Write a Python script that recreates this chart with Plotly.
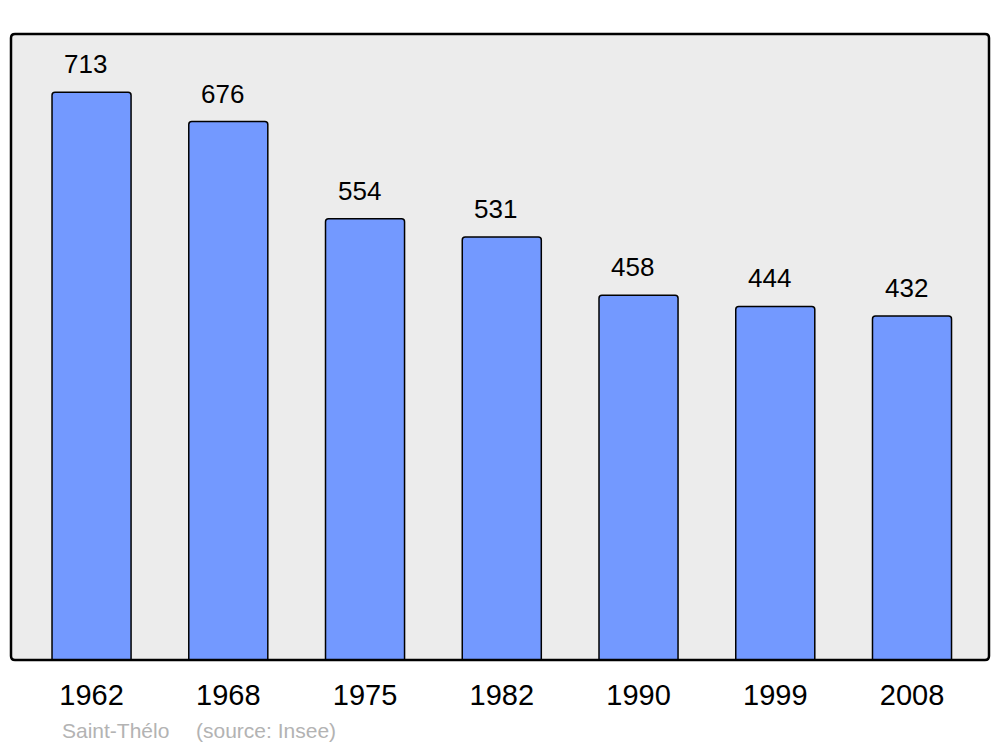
import plotly.graph_objects as go

years = ["1962", "1968", "1975", "1982", "1990", "1999", "2008"]
population = [713, 676, 554, 531, 458, 444, 432]
commune = "Saint-Thélo"
source = "(source: Insee)"

W, H = 1000, 747
L, R, T, B = 11, 11, 34, 87

idx = list(range(len(years)))

fig = go.Figure()
fig.add_trace(go.Bar(
    x=idx, y=population, width=0.578,
    marker=dict(color="#7399ff", line=dict(color="black", width=1.5), cornerradius=3),
    hoverinfo="skip",
))

for i, v in zip(idx, population):
    fig.add_annotation(x=i, y=v, text=str(v), showarrow=False, yanchor="bottom",
                       yshift=11, xshift=-6, font=dict(size=26, color="black"))

fy = -(730 - (H - B)) / (H - T - B)
fig.add_annotation(xref="paper", yref="paper", x=(60 - L) / (W - L - R), y=fy,
                   xanchor="left", yanchor="middle", text=commune, showarrow=False,
                   font=dict(size=21, color="#b3b3b3"))
fig.add_annotation(xref="paper", yref="paper", x=(194 - L) / (W - L - R), y=fy,
                   xanchor="left", yanchor="middle", text=source, showarrow=False,
                   font=dict(size=21, color="#b3b3b3"))

# rounded plot border
pw, ph = W - L - R, H - T - B
rx, ry = 4 / pw, 4 / ph
path = (f"M {rx},0 L {1-rx},0 Q 1,0 1,{ry} L 1,{1-ry} Q 1,1 {1-rx},1 "
        f"L {rx},1 Q 0,1 0,{1-ry} L 0,{ry} Q 0,0 {rx},0 Z")
fig.add_shape(type="path", xref="paper", yref="paper", path=path,
              line=dict(color="black", width=2.5), layer="above")

fig.update_layout(
    width=W, height=H,
    margin=dict(l=L, r=R, t=T, b=B),
    paper_bgcolor="white", plot_bgcolor="#ececec",
    font=dict(family="Liberation Sans, Arial, sans-serif", color="black"),
    showlegend=False,
    xaxis=dict(range=[-0.589, 6.563], tickmode="array", tickvals=idx, ticktext=years,
               showgrid=False, zeroline=False, ticks="outside", ticklen=9,
               tickcolor="rgba(0,0,0,0)", tickfont=dict(size=29)),
    yaxis=dict(range=[0, 786], showgrid=False, zeroline=False, showticklabels=False,
               ticks=""),
)

fig.write_html("out.html", config={"displayModeBar": False},
               post_script="document.body.style.margin='0';document.body.style.overflow='hidden';")
